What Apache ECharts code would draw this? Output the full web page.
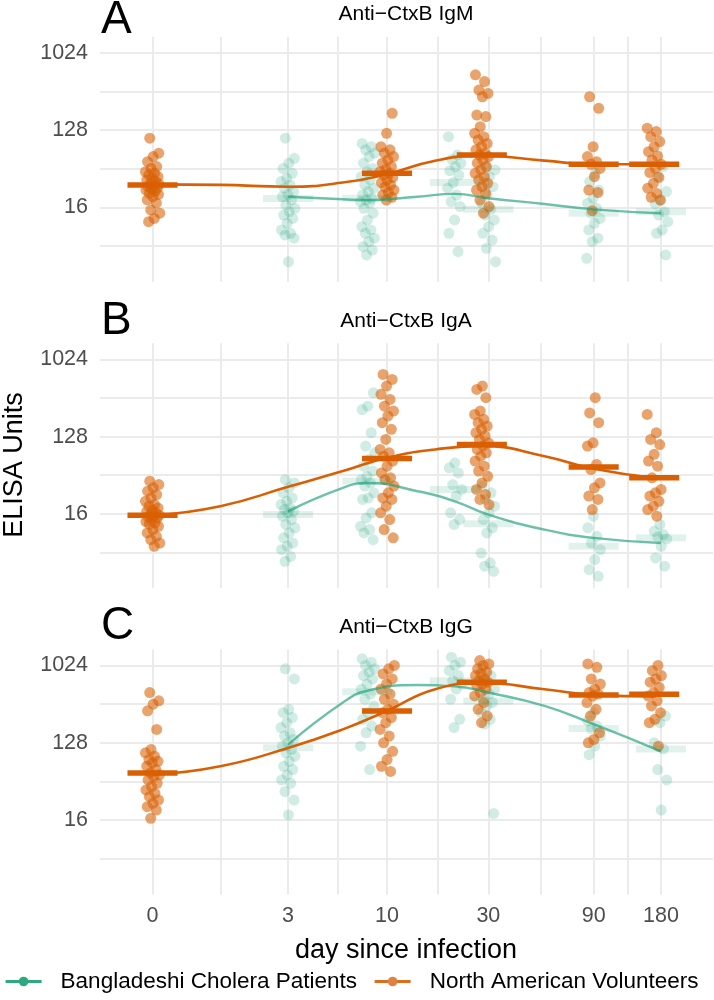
<!DOCTYPE html>
<html><head><meta charset="utf-8">
<script src="https://cdn.jsdelivr.net/npm/echarts@6/dist/echarts.min.js"></script>
<style>html,body{margin:0;padding:0;background:#fff}#c{width:714px;height:1000px}</style>
</head><body><div id="c"></div><script>
// ---------------- data ----------------
const groupNames = ['Bangladeshi Cholera Patients', 'North American Volunteers'];
const panelTitles = ['Anti\u2212CtxB IgM', 'Anti\u2212CtxB IgA', 'Anti\u2212CtxB IgG'];
const panelLetters = ['A', 'B', 'C'];
const dayTicks = [0, 3, 10, 30, 90, 180];
const yTickUnits = [16, 128, 1024];

// sampling days
const bdDays = [3, 8, 21, 30, 90, 180];
const naDays = [0, 10, 28, 90, 168];

// individual titres, log2 ELISA units (one list per sampling day)
const bdIgM = [
  [6.68, 5.90, 5.71, 5.51, 5.32, 5.13, 5.00, 4.87, 4.74, 4.61, 4.49, 4.41, 4.28, 4.09, 3.96, 3.83, 3.70, 3.57, 3.38, 3.12, 2.99, 2.93, 2.80, 1.89],
  [6.48, 6.35, 6.23, 6.10, 5.97, 5.71, 5.51, 5.38, 5.19, 5.06, 4.87, 4.74, 4.61, 4.48, 4.35, 4.28, 4.22, 4.16, 3.96, 3.77, 3.51, 3.25, 3.12, 2.99, 2.80, 2.67, 2.47, 2.34, 2.15],
  [6.74, 6.03, 5.86, 5.71, 5.58, 5.42, 5.25, 4.96, 4.74, 4.48, 4.22, 4.03, 3.51, 2.99, 2.28],
  [5.58, 5.45, 5.19, 4.93, 4.80, 4.48, 4.16, 3.92, 3.70, 3.51, 3.25, 2.99, 2.73, 2.41, 1.89],
  [5.32, 5.00, 4.67, 4.35, 4.16, 3.96, 3.77, 3.57, 3.38, 3.12, 2.80, 2.67, 2.02],
  [5.58, 5.19, 4.61, 4.28, 4.13, 3.83, 3.70, 3.44, 3.12, 2.99, 2.15]
];
const naIgM = [
  [6.68, 6.10, 5.97, 5.77, 5.58, 5.51, 5.38, 5.32, 5.26, 5.19, 5.12, 5.06, 5.00, 4.93, 4.89, 4.85, 4.80, 4.74, 4.70, 4.67, 4.61, 4.54, 4.50, 4.41, 4.29, 4.16, 3.90, 3.77, 3.57, 3.44],
  [7.65, 6.87, 6.35, 6.23, 6.10, 5.97, 5.84, 5.71, 5.58, 5.47, 5.38, 5.32, 5.25, 5.16, 5.06, 4.96, 4.87, 4.78, 4.67, 4.57, 4.48, 4.39, 4.28],
  [9.14, 8.88, 8.55, 8.42, 8.29, 7.58, 7.52, 7.13, 6.87, 6.74, 6.61, 6.48, 6.35, 6.23, 6.10, 6.03, 5.97, 5.84, 5.71, 5.58, 5.45, 5.32, 5.19, 5.06, 4.93, 4.80, 4.67, 4.54, 4.28, 4.03, 3.77],
  [8.29, 7.84, 6.35, 5.97, 5.77, 5.67, 5.51, 5.19, 4.67, 4.57, 3.87],
  [7.07, 6.94, 6.74, 6.55, 6.35, 6.16, 5.99, 5.84, 5.67, 5.51, 5.35, 5.16, 4.93, 4.74, 4.54, 4.39, 4.28]
];
const bdIgA = [
  [5.33, 5.20, 5.01, 4.82, 4.62, 4.49, 4.36, 4.23, 4.17, 4.10, 4.04, 3.91, 3.78, 3.59, 3.46, 3.26, 3.07, 2.87, 2.74, 2.61, 2.35, 2.16],
  [8.70, 8.18, 8.05, 7.15, 6.63, 6.37, 6.11, 5.85, 5.66, 5.46, 5.33, 5.20, 5.08, 4.82, 4.62, 4.56, 4.04, 3.84, 3.52, 3.39, 3.26, 3.00],
  [5.98, 5.79, 5.59, 5.14, 4.95, 4.69, 4.04, 3.78, 3.59],
  [5.08, 4.82, 4.56, 4.30, 4.04, 3.78, 3.46, 3.26, 2.48, 2.10, 1.97, 1.77],
  [3.91, 3.46, 3.13, 2.87, 2.61, 2.23, 1.84, 1.58],
  [3.59, 3.33, 3.20, 3.11, 3.03, 2.74, 2.29, 1.97]
];
const naIgA = [
  [5.27, 5.14, 5.01, 4.88, 4.75, 4.62, 4.49, 4.36, 4.30, 4.23, 4.15, 4.10, 4.04, 3.97, 3.95, 3.91, 3.88, 3.84, 3.78, 3.70, 3.65, 3.60, 3.52, 3.39, 3.26, 3.13, 3.00, 2.87, 2.74],
  [9.41, 9.22, 8.96, 8.64, 8.44, 8.18, 7.99, 7.80, 7.54, 7.28, 6.89, 6.50, 6.37, 6.24, 6.05, 5.85, 5.59, 5.40, 5.33, 5.08, 4.82, 4.62, 4.56, 4.30, 4.04, 3.78, 3.39, 3.07],
  [8.96, 8.83, 8.51, 7.99, 7.86, 7.67, 7.54, 7.41, 7.28, 7.15, 7.02, 6.89, 6.76, 6.63, 6.50, 6.37, 6.24, 6.05, 5.85, 5.66, 5.46, 5.20, 4.95, 4.75, 4.56, 4.36],
  [8.51, 7.92, 7.54, 6.76, 6.63, 5.92, 5.72, 5.20, 5.01, 4.69, 4.56, 4.17],
  [7.86, 7.15, 6.89, 6.69, 6.31, 6.05, 5.85, 5.40, 4.95, 4.82, 4.69, 4.49, 4.30, 4.17, 3.91]
];
const bdIgG = [
  [9.87, 9.48, 8.30, 8.17, 7.98, 7.78, 7.59, 7.39, 7.26, 7.13, 7.00, 6.87, 6.74, 6.61, 6.48, 6.28, 6.09, 5.96, 5.76, 5.56, 5.43, 5.11, 4.78, 4.20],
  [10.26, 10.13, 10.00, 9.87, 9.74, 9.61, 9.48, 9.28, 9.08, 8.89, 8.69, 8.43, 8.17, 7.91, 7.65, 7.39, 6.87, 5.96],
  [10.32, 10.13, 10.00, 9.80, 9.61, 9.41, 9.28, 9.08, 8.69, 7.91, 7.59],
  [9.87, 9.61, 9.35, 9.08, 8.89, 8.69, 8.56, 8.43, 8.17, 7.91, 7.72, 4.26],
  [8.17, 7.85, 7.65, 7.55, 7.26, 6.87, 6.54],
  [8.04, 7.78, 7.00, 6.76, 5.96, 5.56, 4.39]
];
const naIgG = [
  [8.95, 8.63, 8.50, 8.24, 7.52, 6.74, 6.61, 6.48, 6.35, 6.28, 6.22, 6.09, 5.96, 5.83, 5.76, 5.69, 5.56, 5.43, 5.30, 5.17, 5.04, 4.91, 4.78, 4.65, 4.52, 4.39, 4.07],
  [10.00, 9.87, 9.67, 9.48, 9.28, 9.08, 8.89, 8.69, 8.50, 8.30, 8.17, 7.98, 7.78, 7.52, 7.26, 7.00, 6.67, 6.35, 6.09, 5.89],
  [10.19, 10.06, 10.00, 9.87, 9.74, 9.67, 9.61, 9.48, 9.41, 9.35, 9.28, 9.22, 9.08, 8.95, 8.82, 8.56, 8.30, 8.04, 7.78],
  [10.06, 9.93, 9.48, 9.28, 9.08, 8.95, 8.89, 8.82, 8.56, 8.30, 8.04, 7.39, 7.13, 7.00],
  [10.00, 9.80, 9.61, 9.48, 9.35, 9.15, 8.95, 8.82, 8.63, 8.43, 8.17, 7.91, 7.78, 6.87]
];

// smoothed trend (log2 ELISA units)
const bdCurveDays = [3, 6, 8, 14, 21, 30, 54, 90, 180];
const naCurveDays = [0, 1, 3, 6, 10, 17, 28, 54, 90, 168];
const bdIgMCurve = [4.41, 4.31, 4.28, 4.41, 4.52, 4.35, 4.13, 3.92, 3.77];
const naIgMCurve = [4.89, 4.87, 4.80, 4.96, 5.29, 5.81, 6.00, 5.81, 5.67, 5.67];
const bdIgACurve = [4.10, 5.01, 5.20, 4.88, 4.49, 3.97, 3.39, 3.07, 2.87];
const naIgACurve = [3.94, 4.30, 5.05, 5.66, 6.18, 6.50, 6.63, 6.24, 5.75, 5.40];
const bdIgGCurve = [6.93, 8.56, 9.02, 9.24, 9.19, 8.95, 8.43, 7.72, 6.67];
const naIgGCurve = [5.76, 6.09, 6.80, 7.52, 8.24, 9.08, 9.32, 9.08, 8.86, 8.80];

// ---------------- build ----------------
const FONT = '"Liberation Sans", Arial, Helvetica, sans-serif';
const GREEN = '#1B9E77', ORANGE = '#D95F02';
const panels = [
  {bd: bdIgM, na: naIgM, bdc: bdIgMCurve, nac: naIgMCurve},
  {bd: bdIgA, na: naIgA, bdc: bdIgACurve, nac: naIgACurve},
  {bd: bdIgG, na: naIgG, bdc: bdIgGCurve, nac: naIgGCurve}
];
const tx = d => Math.log1p(d);
const xMajor = dayTicks.map(tx);
const xGrid = [];
xMajor.forEach((m, i) => { xGrid.push(m); if (i < xMajor.length - 1) xGrid.push((m + xMajor[i + 1]) / 2); });
const yMajor = yTickUnits.map(v => Math.log2(v));
const yStep = (yMajor[1] - yMajor[0]) / 2;
const yGrid = [];
for (let v = yMajor[0] - yStep; v <= yMajor[yMajor.length - 1] + 1e-9; v += yStep) yGrid.push(+v.toFixed(4));

const median = arr => { const s = arr.slice().sort((a, b) => a - b); const n = s.length; return n % 2 ? s[(n - 1) / 2] : (s[n / 2 - 1] + s[n / 2]) / 2; };
const jitter = i => (((i * 0.6180339887 + 0.31) % 1) - 0.5) * 0.15;

const panelTops = [36.7, 343.3, 649.5];
const PH = 245;
const grids = [], xAxes = [], yAxes = [], series = [], graphics = [];
const lineSeries = [], pointSeries = [], barSeries = [];

panels.forEach((p, k) => {
  grids.push({left: 100, width: 613, top: panelTops[k], height: PH});
  xAxes.push({
    type: 'value', gridIndex: k, min: -0.537, max: 5.731,
    axisLine: {show: false},
    axisTick: {show: false, customValues: xGrid},
    splitLine: {show: true, lineStyle: {color: '#EBEBEB', width: 2}},
    axisLabel: {
      show: k === 2, customValues: xMajor, margin: 11,
      color: '#4D4D4D', fontSize: 21.5, fontFamily: FONT,
      formatter: v => { const i = xMajor.findIndex(m => Math.abs(m - v) < 1e-6); return i >= 0 ? String(dayTicks[i]) : ''; }
    }
  });
  yAxes.push({
    type: 'value', gridIndex: k, min: 1.113, max: 10.62,
    axisLine: {show: false},
    axisTick: {show: false, customValues: yGrid},
    splitLine: {show: true, lineStyle: {color: '#EBEBEB', width: 2}},
    axisLabel: {
      customValues: yMajor, margin: 12, color: '#4D4D4D', fontSize: 21.5, fontFamily: FONT,
      formatter: v => String(Math.round(Math.pow(2, v)))
    }
  });

  // trend lines
  lineSeries.push({
    type: 'line', name: groupNames[0], xAxisIndex: k, yAxisIndex: k,
    data: bdCurveDays.map((d, i) => [tx(d), p.bdc[i]]),
    smooth: 0.5, showSymbol: false, symbol: 'circle', symbolSize: 10, z: 6,
    lineStyle: {color: GREEN, width: 2.4, opacity: 0.64}, itemStyle: {color: '#2FA882'}
  });
  lineSeries.push({
    type: 'line', name: groupNames[1], xAxisIndex: k, yAxisIndex: k,
    data: naCurveDays.map((d, i) => [tx(d), p.nac[i]]),
    smooth: 0.5, showSymbol: false, symbol: 'circle', symbolSize: 10, z: 7,
    lineStyle: {color: ORANGE, width: 2.6}, itemStyle: {color: '#E3803F'}
  });

  // points
  const mkPts = (days, lists) => {
    const out = []; let n = 0;
    lists.forEach((vals, j) => vals.forEach(v => { out.push([tx(days[j]) + jitter(n++), v]); }));
    return out;
  };
  pointSeries.push({
    type: 'scatter', xAxisIndex: k, yAxisIndex: k, data: mkPts(bdDays, p.bd), symbolSize: 11, z: 2,
    itemStyle: {color: 'rgba(27,158,119,0.25)'}, silent: true
  });
  pointSeries.push({
    type: 'scatter', xAxisIndex: k, yAxisIndex: k, data: mkPts(naDays, p.na), symbolSize: 11, z: 3,
    itemStyle: {color: 'rgba(217,95,2,0.72)'}, silent: true
  });

  // median bars
  const mkBar = (days, lists, fill, h, z) => ({
    type: 'custom', xAxisIndex: k, yAxisIndex: k, z: z, silent: true,
    data: days.map((d, j) => [tx(d), median(lists[j])]),
    renderItem: (params, api) => {
      const a = api.coord([api.value(0) - 0.256, api.value(1)]);
      const b = api.coord([api.value(0) + 0.256, api.value(1)]);
      return {type: 'rect', shape: {x: a[0], y: a[1] - h / 2, width: b[0] - a[0], height: h}, style: {fill: fill}};
    }
  });
  barSeries.push(mkBar(bdDays, p.bd, 'rgba(27,158,119,0.13)', 7, 4));
  barSeries.push(mkBar(naDays, p.na, ORANGE, 5.5, 5));
});

series.push(...lineSeries, ...pointSeries, ...barSeries);

const letterY = [20, 321, 626.5];
const titleY = [14, 321, 627];
panels.forEach((p, k) => {
  graphics.push({type: 'text', style: {text: panelLetters[k], x: 101, y: letterY[k], font: '46px ' + FONT, fill: '#000', textAlign: 'left', textVerticalAlign: 'middle'}});
  graphics.push({type: 'text', style: {text: panelTitles[k], x: 406, y: titleY[k], font: '21px ' + FONT, fill: '#000', textAlign: 'center', textVerticalAlign: 'middle'}});
});
graphics.push({type: 'text', style: {text: 'day since infection', x: 406, y: 951, font: '27px ' + FONT, fill: '#000', textAlign: 'center', textVerticalAlign: 'middle'}});
graphics.push({type: 'text', x: 15, y: 465, rotation: Math.PI / 2, style: {text: 'ELISA Units', x: 0, y: 0, font: '27px ' + FONT, fill: '#000', textAlign: 'center', textVerticalAlign: 'middle'}});

const chart = echarts.init(document.getElementById('c'), null, {renderer: 'canvas'});
chart.setOption({
  animation: false,
  backgroundColor: '#fff',
  grid: grids, xAxis: xAxes, yAxis: yAxes, series: series,
  legend: {
    data: groupNames, left: 4, top: 970, width: 710, padding: 0, itemWidth: 36, itemHeight: 12, itemGap: 16,
    lineStyle: {width: 3.2, opacity: 0.9},
    textStyle: {fontSize: 22.5, color: '#000', fontFamily: FONT, padding: [0, 0, 0, 14]},
    selectedMode: false
  },
  graphic: graphics
});
</script></body></html>
